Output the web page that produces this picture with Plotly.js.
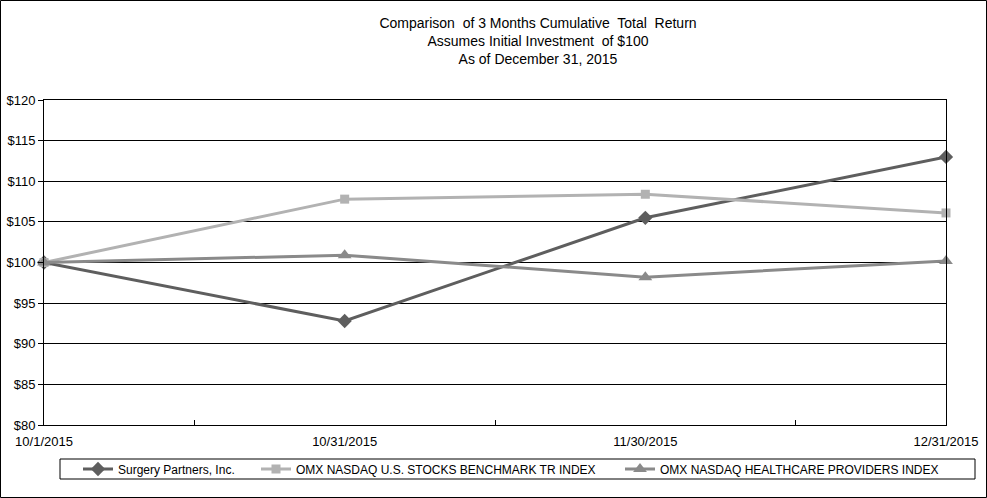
<!DOCTYPE html>
<html>
<head>
<meta charset="utf-8">
<script src="https://cdn.plot.ly/plotly-3.0.1.min.js"></script>
<style>
  html, body { margin: 0; padding: 0; background: #fff; }
  #chart { width: 987px; height: 498px; }
</style>
</head>
<body>
<div id="chart"></div>
<script>
// ---- data ----
const dates = ["10/1/2015", "10/31/2015", "11/30/2015", "12/31/2015"];
const surgeryPartners = [100, 92.8, 105.5, 113.0];
const omxUsBenchmark = [100, 107.8, 108.4, 106.1];
const omxHealthcare = [100, 100.9, 98.2, 100.2];
const seriesNames = [
  "Surgery Partners, Inc.",
  "OMX NASDAQ U.S. STOCKS BENCHMARK TR INDEX",
  "OMX NASDAQ HEALTHCARE PROVIDERS INDEX"
];
const yTicks = [80, 85, 90, 95, 100, 105, 110, 115, 120];
const yTickLabels = yTicks.map(v => "$" + v);
const titleLines = [
  "Comparison  of 3 Months Cumulative  Total  Return",
  "Assumes Initial Investment  of $100",
  "As of December 31, 2015"
];

const xIdx = dates.map((_, i) => i);
const font = "Arial, 'Liberation Sans', sans-serif";

const traces = [
  {
    x: xIdx, y: surgeryPartners, name: seriesNames[0], type: "scatter", mode: "lines+markers",
    line: { color: "#5e5e5e", width: 3 },
    marker: { symbol: "diamond", size: 11, color: "#5e5e5e" },
    cliponaxis: false, legend: "legend"
  },
  {
    x: xIdx, y: omxUsBenchmark, name: seriesNames[1], type: "scatter", mode: "lines+markers",
    line: { color: "#b2b2b2", width: 3 },
    marker: { symbol: "square", size: 9, color: "#b2b2b2" },
    cliponaxis: false, legend: "legend2"
  },
  {
    x: xIdx, y: omxHealthcare, name: seriesNames[2], type: "scatter", mode: "lines+markers",
    line: { color: "#8a8a8a", width: 3 },
    marker: { symbol: "triangle-up", size: 12, color: "#8a8a8a" },
    cliponaxis: false, legend: "legend3"
  }
];

const L = 44, R = 946, T = 100, B = 425, W = 987, H = 498;
const pw = R - L, ph = B - T;
const px = x => (x - L) / pw;
const py = y => (B - y) / ph;

const legendCommon = {
  orientation: "h", yanchor: "middle", y: py(469), xanchor: "left",
  bgcolor: "rgba(0,0,0,0)", borderwidth: 0,
  font: { family: font, size: 12, color: "#000" }
};

const layout = {
  width: W, height: H,
  margin: { l: L, r: W - R, t: T, b: H - B },
  paper_bgcolor: "#fff", plot_bgcolor: "#fff",
  title: {
    text: titleLines.join("<br>"),
    font: { family: font, size: 14, color: "#000" },
    xref: "paper", x: px(538), xanchor: "center",
    yref: "container", y: 1 - 28 / H, yanchor: "top"
  },
  xaxis: {
    range: [0, 3],
    tickmode: "array", tickvals: xIdx, ticktext: dates,
    ticks: "", showgrid: false, zeroline: false,
    showline: true, linecolor: "#000", linewidth: 1, mirror: true,
    tickfont: { family: font, size: 13, color: "#000" },
    ticklabelstandoff: 4,
    minor: { tickmode: "array", tickvals: [0.5, 1.5, 2.5], ticks: "inside", ticklen: 5, tickcolor: "#000", showgrid: false }
  },
  yaxis: {
    range: [80, 120],
    tickmode: "array", tickvals: yTicks, ticktext: yTickLabels,
    ticks: "outside", ticklen: 5, tickcolor: "#000",
    showgrid: true, gridcolor: "#000", gridwidth: 1, zeroline: false,
    showline: true, linecolor: "#000", linewidth: 1, mirror: true,
    tickfont: { family: font, size: 13, color: "#000" }
  },
  legend: Object.assign({}, legendCommon, { x: px(78) }),
  legend2: Object.assign({}, legendCommon, { x: px(256) }),
  legend3: Object.assign({}, legendCommon, { x: px(620) }),
  showlegend: true,
  shapes: [
    { type: "rect", xref: "paper", yref: "paper", x0: px(60), x1: px(975), y0: py(479), y1: py(459),
      line: { color: "#000", width: 1 }, fillcolor: "rgba(0,0,0,0)" },
    { type: "rect", xref: "paper", yref: "paper", x0: px(0.5), x1: px(986.5), y0: py(497.5), y1: py(0.5),
      line: { color: "#000", width: 1 }, fillcolor: "rgba(0,0,0,0)" }
  ]
};

Plotly.newPlot("chart", traces, layout, { displayModeBar: false, staticPlot: true });
</script>
</body>
</html>
